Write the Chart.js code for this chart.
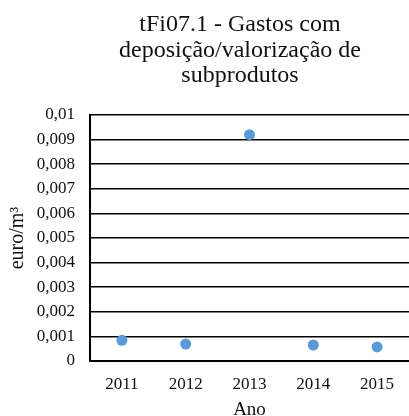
<!DOCTYPE html>
<html>
<head>
<meta charset="utf-8">
<script src="https://cdn.jsdelivr.net/npm/chart.js@4/dist/chart.umd.min.js"></script>
<style>
  html, body { margin: 0; padding: 0; background: #fff; }
  #wrap { width: 409px; height: 416px; position: relative; }
</style>
</head>
<body>
<div id="wrap"><canvas id="c"></canvas></div>
<script>
const titleLines = ['tFi07.1 - Gastos com', 'deposição/valorização de', 'subprodutos'];
const years = ['2011', '2012', '2013', '2014', '2015'];
const values = [0.00084, 0.00069, 0.0092, 0.00065, 0.00057];
const yTickLabels = ['0', '0,001', '0,002', '0,003', '0,004', '0,005', '0,006', '0,007', '0,008', '0,009', '0,01'];
const yTitle = 'euro/m³';
const xTitle = 'Ano';

const FONT = '"Liberation Serif", "Times New Roman", serif';
const RIGHT_BLEED = -3;

const titlePlugin = {
  id: 'multiTitle',
  afterDraw(chart) {
    const ctx = chart.ctx;
    ctx.save();
    ctx.font = '24px ' + FONT;
    ctx.fillStyle = '#111';
    ctx.textAlign = 'center';
    ctx.textBaseline = 'alphabetic';
    const cx = 240;
    titleLines.forEach((line, i) => {
      ctx.fillText(line, cx, 31 + i * 25.5);
    });
    ctx.restore();
  }
};

new Chart(document.getElementById('c'), {
  type: 'line',
  data: {
    labels: years,
    datasets: [{
      data: values,
      showLine: false,
      pointRadius: 5.5,
      pointHoverRadius: 5.5,
      pointBackgroundColor: '#5B9BD5',
      pointBorderWidth: 0,
      borderColor: '#5B9BD5',
      clip: false
    }]
  },
  options: {
    responsive: true,
    maintainAspectRatio: false,
    animation: false,
    events: [],
    layout: { autoPadding: false, padding: { top: 115, right: RIGHT_BLEED, left: 0, bottom: 0 } },
    plugins: {
      legend: { display: false },
      title: { display: false },
      tooltip: { enabled: false }
    },
    scales: {
      x: {
        offset: true,
        grid: { display: false, drawTicks: false },
        border: { display: true, color: '#000', width: 2 },
        ticks: {
          padding: 13,
          color: '#111',
          font: { family: FONT, size: 17 }
        },
        title: {
          display: true,
          text: xTitle,
          color: '#111',
          font: { family: FONT, size: 19, lineHeight: 1 },
          padding: { top: 0, bottom: -4 }
        },
        afterFit(scale) {
          scale.height = 55;
          scale.paddingLeft = 0;
          scale.paddingRight = RIGHT_BLEED;
        }
      },
      y: {
        min: 0,
        max: 0.01,
        grid: { color: '#000', lineWidth: 1.6, drawTicks: false },
        border: { display: true, color: '#000', width: 2 },
        ticks: {
          stepSize: 0.001,
          padding: 15,
          color: '#111',
          font: { family: FONT, size: 17 },
          callback: (v, i) => yTickLabels[i]
        },
        title: {
          display: true,
          text: yTitle,
          color: '#111',
          font: { family: FONT, size: 20, lineHeight: 1 },
          padding: { top: 8, bottom: 0 }
        },
        afterFit(scale) {
          scale.width = 90;
          scale.paddingRight = RIGHT_BLEED;
        }
      }
    }
  },
  plugins: [titlePlugin]
});
</script>
</body>
</html>
